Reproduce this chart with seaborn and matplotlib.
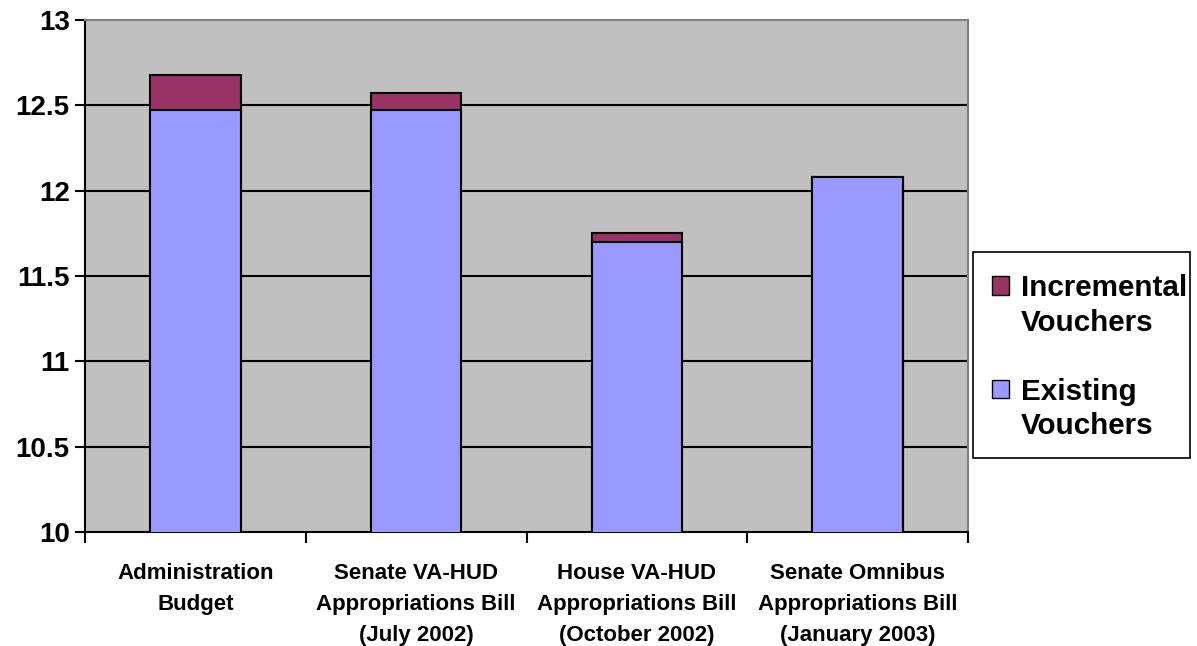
import matplotlib
matplotlib.use("Agg")
import matplotlib.pyplot as plt
import seaborn as sns
import pandas as pd
from matplotlib.patches import Patch, Rectangle
from matplotlib.ticker import FixedLocator

categories = [
    "Administration\nBudget",
    "Senate VA-HUD\nAppropriations Bill\n(July 2002)",
    "House VA-HUD\nAppropriations Bill\n(October 2002)",
    "Senate Omnibus\nAppropriations Bill\n(January 2003)",
]
existing = [12.475, 12.475, 11.70, 12.08]
incremental = [0.20, 0.095, 0.05, 0.0]
yticks = [10, 10.5, 11, 11.5, 12, 12.5, 13]
ytick_labels = ["10", "10.5", "11", "11.5", "12", "12.5", "13"]
legend_labels = ["Incremental", "Vouchers", "", "Existing", "Vouchers"]

c_inc = "#993366"
c_exist = "#9999FF"

sns.set_theme(style="white")
plt.rcParams["font.family"] = ["Liberation Sans", "DejaVu Sans"]
plt.rcParams["text.color"] = "black"
plt.rcParams["xtick.color"] = "black"
plt.rcParams["ytick.color"] = "black"

df = pd.DataFrame({
    "cat": categories,
    "existing": existing,
    "total": [e + i for e, i in zip(existing, incremental)],
})

W, H = 1197, 646
fig = plt.figure(figsize=(W / 100, H / 100), dpi=100)
ax = fig.add_axes([85 / W, 1 - 532 / H, (968 - 85) / W, (532 - 20) / H])
ax.set_facecolor("#C0C0C0")

sns.barplot(data=df, x="cat", y="total", color=c_inc, saturation=1, width=0.41,
            edgecolor="black", linewidth=1.5, ax=ax, zorder=3)
sns.barplot(data=df, x="cat", y="existing", color=c_exist, saturation=1, width=0.41,
            edgecolor="black", linewidth=1.5, ax=ax, zorder=4)

ax.set_ylim(10, 13)
ax.set_xlim(-0.5, 3.5)
ax.set_yticks(yticks)
ax.set_yticklabels(ytick_labels, fontsize=20, fontweight="bold")
for y in yticks[1:-1]:
    ax.axhline(y, color="black", linewidth=1.5, zorder=2)

ax.set_xlabel("")
ax.set_ylabel("")
ax.set_xticks(range(len(categories)))
ax.set_xticklabels(categories, fontsize=16, fontweight="bold", linespacing=1.65)
ax.tick_params(axis="x", which="major", length=0, pad=22)
ax.xaxis.set_minor_locator(FixedLocator([-0.5, 0.5, 1.5, 2.5, 3.5]))
ax.tick_params(axis="x", which="minor", length=8, width=1.5, color="black", direction="out", bottom=True)
ax.tick_params(axis="y", length=7, width=1.5, color="black", direction="out", left=True, pad=4)

for s in ["left", "bottom"]:
    ax.spines[s].set_color("black")
    ax.spines[s].set_linewidth(1.5)
for s in ["top", "right"]:
    ax.spines[s].set_color("#808080")
    ax.spines[s].set_linewidth(1.5)

# legend frame
frame = Rectangle((973 / W, 1 - 458 / H), (1190 - 973) / W, (458 - 252) / H,
                  transform=fig.transFigure, facecolor="white", edgecolor="black",
                  linewidth=1.2, zorder=1)
fig.add_artist(frame)

handles = [Patch(facecolor=c_inc, edgecolor="black", linewidth=1),
           Patch(facecolor="none", edgecolor="none"),
           Patch(facecolor="none", edgecolor="none"),
           Patch(facecolor=c_exist, edgecolor="black", linewidth=1),
           Patch(facecolor="none", edgecolor="none")]
leg = fig.legend(handles, legend_labels,
                 loc="upper left", bbox_to_anchor=(992 / W, 1 - 274 / H),
                 frameon=False,
                 prop={"size": 21.3, "weight": "bold"}, handlelength=0.57, handleheight=0.57,
                 handletextpad=0.4, labelspacing=0.22, borderpad=0, borderaxespad=0)
leg.set_zorder(5)

fig.savefig("out.png", dpi=100, facecolor="white")
